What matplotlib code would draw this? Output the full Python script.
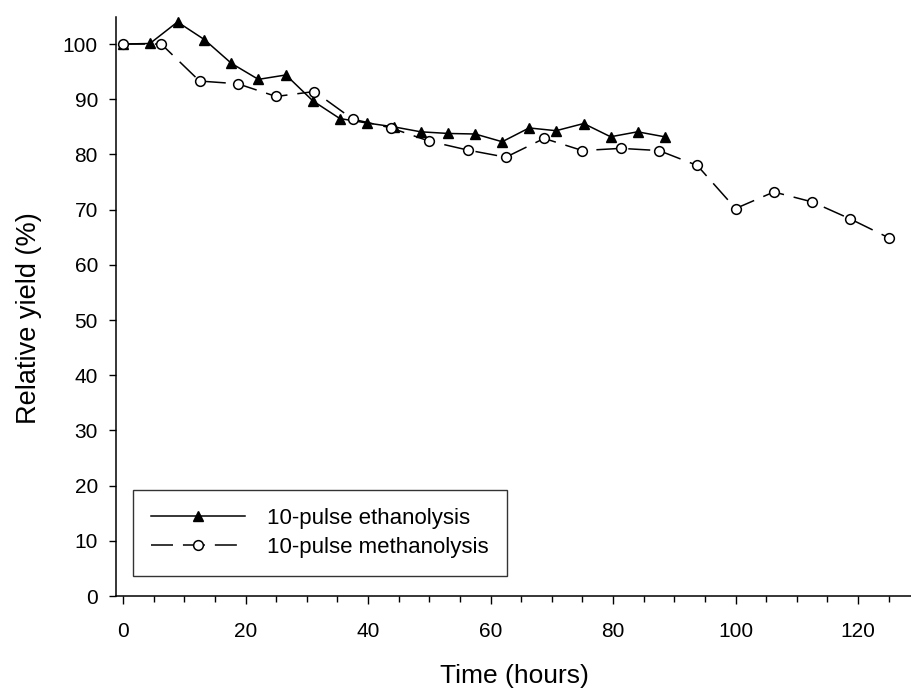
import matplotlib
matplotlib.use("Agg")
import matplotlib.pyplot as plt
from matplotlib.ticker import MultipleLocator

plt.rcParams['font.family'] = ['Liberation Sans', 'DejaVu Sans']

# Relative yield over time for two transesterification routes
eth_time = [0, 4.4, 8.9, 13.3, 17.7, 22.1, 26.6, 31.0, 35.4, 39.8, 44.2,
            48.6, 53.1, 57.5, 61.9, 66.3, 70.7, 75.2, 79.6, 84.0, 88.4]
eth_yield = [100, 100.1, 104.0, 100.8, 96.5, 93.6, 94.4, 89.7, 86.5, 85.7, 85.0,
             84.1, 83.8, 83.7, 82.3, 84.8, 84.3, 85.6, 83.2, 84.1, 83.2]

meth_time = [0, 6.25, 12.5, 18.75, 25, 31.25, 37.5, 43.75, 50, 56.25, 62.5,
             68.75, 75, 81.25, 87.5, 93.75, 100, 106.25, 112.5, 118.75, 125]
meth_yield = [100, 100, 93.3, 92.8, 90.5, 91.4, 86.4, 84.8, 82.4, 80.8, 79.5,
              82.9, 80.7, 81.1, 80.7, 78.0, 70.2, 73.2, 71.4, 68.3, 64.9]

series_labels = ["10-pulse ethanolysis", "10-pulse methanolysis"]
x_label = "Time (hours)"
y_label = "Relative yield (%)"

fig = plt.figure(figsize=(9.12, 6.91), dpi=100)
ax = fig.add_axes([116 / 912, 95 / 691, 796 / 912, 579 / 691])

lw = 1.1
ax.plot(eth_time, eth_yield, color='black', lw=lw, marker='^',
        markersize=7.5, markerfacecolor='black', markeredgecolor='black',
        label=series_labels[0], zorder=3)
meth_line, = ax.plot(meth_time, meth_yield, color='black', lw=lw, marker='o',
                     markersize=7, markerfacecolor='white',
                     markeredgecolor='black', markeredgewidth=1.1,
                     label=series_labels[1], zorder=4)
meth_line.set_dashes((14.4, 6.5))

ax.set_xlim(-1.14, 128.8)
ax.set_ylim(0, 104.9)

ax.xaxis.set_major_locator(MultipleLocator(20))
ax.xaxis.set_minor_locator(MultipleLocator(5))
ax.yaxis.set_major_locator(MultipleLocator(10))

for side in ('top', 'right'):
    ax.spines[side].set_visible(False)
for side in ('left', 'bottom'):
    ax.spines[side].set_linewidth(1.1)

ax.tick_params(axis='x', which='major', direction='out', length=5.8,
               width=1.0, labelsize=15, pad=13)
ax.tick_params(axis='x', which='minor', direction='out', length=4.0, width=1.0)
ax.tick_params(axis='y', which='major', direction='out', length=5.0,
               width=1.0, labelsize=15, pad=8)

ax.set_xlabel(x_label, fontsize=19)
ax.xaxis.set_label_coords(0.5, -0.117)
ax.set_ylabel(y_label, fontsize=19.5)
ax.yaxis.set_label_coords(-0.093, 0.48)

leg = ax.legend(loc='upper left', bbox_to_anchor=(133 / 912, 201 / 691),
                bbox_transform=fig.transFigure, fontsize=16, frameon=True,
                fancybox=False, shadow=False, numpoints=1,
                handlelength=4.2, handletextpad=1.0, borderpad=0.82,
                labelspacing=0.35, borderaxespad=0)
leg.get_frame().set_edgecolor('black')
leg.get_frame().set_linewidth(1.0)

fig.savefig("out.png", dpi=100)
